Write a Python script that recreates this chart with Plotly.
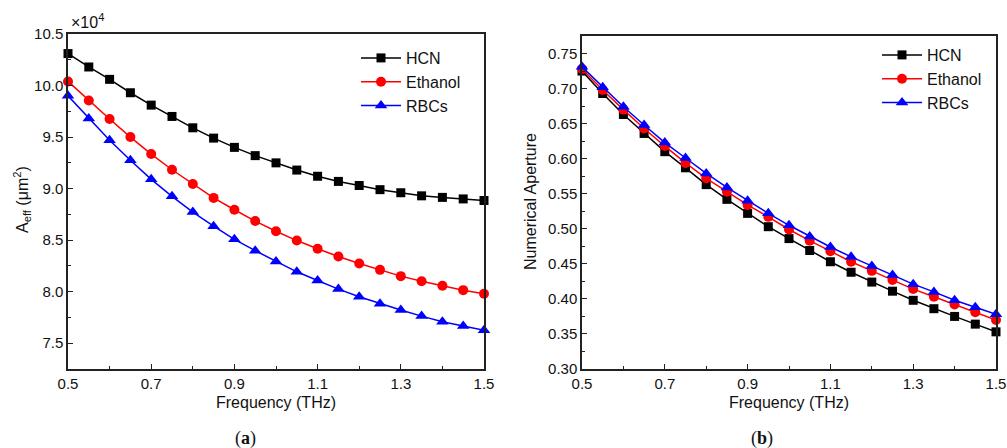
import plotly.graph_objects as go

freq = [0.5, 0.55, 0.6, 0.65, 0.7, 0.75, 0.8, 0.85, 0.9, 0.95, 1.0,
        1.05, 1.1, 1.15, 1.2, 1.25, 1.3, 1.35, 1.4, 1.45, 1.5]

# Effective area (x10^4 um^2)
aeff_hcn = [10.31, 10.18, 10.06, 9.93, 9.81, 9.70, 9.59, 9.49, 9.40, 9.32, 9.25,
            9.18, 9.12, 9.07, 9.03, 8.99, 8.96, 8.93, 8.915, 8.90, 8.885]
aeff_eth = [10.04, 9.855, 9.675, 9.50, 9.335, 9.183, 9.045, 8.91, 8.795, 8.685, 8.586,
            8.496, 8.416, 8.341, 8.274, 8.212, 8.151, 8.102, 8.058, 8.015, 7.98]
aeff_rbc = [9.90, 9.68, 9.47, 9.275, 9.09, 8.925, 8.772, 8.635, 8.508, 8.398, 8.293,
            8.193, 8.109, 8.025, 7.951, 7.883, 7.822, 7.763, 7.709, 7.667, 7.625]

# Numerical aperture
na_hcn = [0.725, 0.693, 0.663, 0.636, 0.610, 0.587, 0.563, 0.542, 0.522, 0.503, 0.486,
          0.469, 0.453, 0.438, 0.424, 0.411, 0.398, 0.386, 0.375, 0.364, 0.353]
na_eth = [0.728, 0.698, 0.670, 0.643, 0.618, 0.594, 0.572, 0.553, 0.534, 0.517, 0.499,
          0.483, 0.468, 0.453, 0.440, 0.427, 0.414, 0.403, 0.392, 0.381, 0.370]
na_rbc = [0.731, 0.702, 0.674, 0.648, 0.623, 0.601, 0.579, 0.559, 0.540, 0.522, 0.505,
          0.489, 0.474, 0.460, 0.447, 0.434, 0.421, 0.410, 0.398, 0.388, 0.378]

names = ["HCN", "Ethanol", "RBCs"]
colors = ["#000000", "#ff0000", "#0000ff"]
symbols = ["square", "circle", "triangle-up"]
msizes = [9, 10, 11]

W, H = 1007, 448
FONT = "Liberation Sans, Arial, sans-serif"

fig = go.Figure()

for i, ys in enumerate([aeff_hcn, aeff_eth, aeff_rbc]):
    fig.add_trace(go.Scatter(
        x=freq, y=ys, name=names[i], mode="lines+markers",
        line=dict(color=colors[i], width=1.5),
        marker=dict(symbol=symbols[i], size=msizes[i], color=colors[i], line=dict(width=0)),
        xaxis="x", yaxis="y", legend="legend", cliponaxis=False))

for i, ys in enumerate([na_hcn, na_eth, na_rbc]):
    fig.add_trace(go.Scatter(
        x=freq, y=ys, name=names[i], mode="lines+markers",
        line=dict(color=colors[i], width=1.5),
        marker=dict(symbol=symbols[i], size=msizes[i], color=colors[i], line=dict(width=0)),
        xaxis="x2", yaxis="y2", legend="legend2", cliponaxis=False))

axis_common = dict(
    showline=True, linecolor="#222", linewidth=1.5, mirror=True,
    ticks="inside", ticklen=5, tickwidth=1.2, tickcolor="#222",
    showgrid=False, zeroline=False, automargin=False,
    tickfont=dict(family=FONT, size=15, color="#111"),
)

xcommon = dict(axis_common, range=[0.5, 1.5], tick0=0.5, dtick=0.2, tickformat=".1f",
               minor=dict(ticks="inside", ticklen=3, dtick=0.1, tick0=0.5, tickcolor="#222", tickwidth=1.2))

fig.update_layout(
    width=W, height=H,
    margin=dict(l=0, r=0, t=0, b=0, autoexpand=False),
    paper_bgcolor="white", plot_bgcolor="white",
    showlegend=True,
    xaxis=dict(xcommon, domain=[68 / W, 484 / W], anchor="y"),
    yaxis=dict(axis_common, domain=[(H - 369) / H, (H - 34) / H], anchor="x",
               range=[7.25, 10.5], tick0=7.5, dtick=0.5, tickformat=".1f",
               minor=dict(ticks="inside", ticklen=3, dtick=0.25, tick0=7.25, tickcolor="#222", tickwidth=1.2)),
    xaxis2=dict(xcommon, domain=[582 / W, 996 / W], anchor="y2"),
    yaxis2=dict(axis_common, domain=[(H - 369) / H, (H - 36) / H], anchor="x2",
                range=[0.3, 0.775], tick0=0.3, dtick=0.05, tickformat=".2f",
                minor=dict(ticks="inside", ticklen=3, dtick=0.025, tick0=0.3, tickcolor="#222", tickwidth=1.2)),
    legend=dict(x=356 / W, y=(H - 41) / H, xanchor="left", yanchor="top",
                bgcolor="rgba(0,0,0,0)", font=dict(family=FONT, size=16, color="#111"),
                tracegroupgap=0, itemwidth=40),
    legend2=dict(x=877 / W, y=(H - 38) / H, xanchor="left", yanchor="top",
                 bgcolor="rgba(0,0,0,0)", font=dict(family=FONT, size=16, color="#111"),
                 tracegroupgap=0, itemwidth=40),
)

annots = [
    dict(text="Frequency (THz)", x=(68 + 484) / 2 / W, y=(H - 402) / H, xanchor="center", yanchor="middle",
         font=dict(family=FONT, size=16, color="#111")),
    dict(text="Frequency (THz)", x=(582 + 996) / 2 / W, y=(H - 402) / H, xanchor="center", yanchor="middle",
         font=dict(family=FONT, size=16, color="#111")),
    dict(text="A<sub>eff</sub> (\u03bcm<sup>2</sup>)", x=22 / W, y=(H - 200) / H, xanchor="center", yanchor="middle",
         textangle=-90, font=dict(family=FONT, size=16, color="#111")),
    dict(text="Numerical Aperture", x=531 / W, y=(H - 202) / H, xanchor="center", yanchor="middle",
         textangle=-90, font=dict(family=FONT, size=16, color="#111")),
    dict(text="\u00d710<sup>4</sup>", x=69 / W, y=(H - 21) / H, xanchor="left", yanchor="middle",
         font=dict(family=FONT, size=16, color="#111")),
    dict(text="(<b>a</b>)", x=245 / W, y=(H - 438) / H, xanchor="center", yanchor="middle",
         font=dict(family="Liberation Serif, serif", size=18, color="#111")),
    dict(text="(<b>b</b>)", x=762 / W, y=(H - 438) / H, xanchor="center", yanchor="middle",
         font=dict(family="Liberation Serif, serif", size=18, color="#111")),
]
for a in annots:
    fig.add_annotation(xref="paper", yref="paper", showarrow=False, **a)

fig.write_html("out.html")
